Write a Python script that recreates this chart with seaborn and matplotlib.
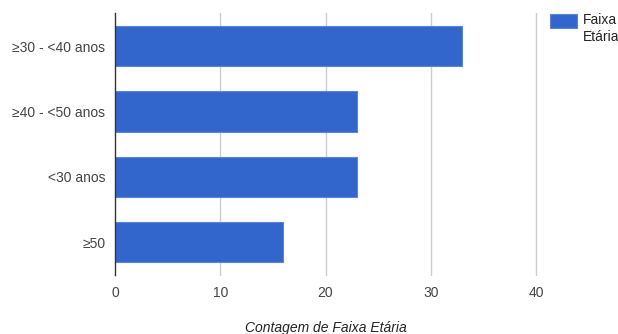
import matplotlib
matplotlib.use("Agg")
import matplotlib.pyplot as plt
import seaborn as sns
import pandas as pd

categories = ["≥30 - <40 anos", "≥40 - <50 anos", "<30 anos", "≥50"]
counts = [33, 23, 23, 16]
x_ticks = [0, 10, 20, 30, 40]
series_label = "Faixa\nEtária"
x_title = "Contagem de Faixa Etária"

sns.set_theme(style="white")
plt.rcParams["font.family"] = ["Liberation Sans", "DejaVu Sans"]

W, H = 618, 334
fig = plt.figure(figsize=(W / 100, H / 100), dpi=100)
ax = fig.add_axes([115 / W, 1 - 275 / H, (536 - 115) / W, (275 - 13.3) / H])

df = pd.DataFrame({"categoria": categories, "contagem": counts})
sns.barplot(data=df, x="contagem", y="categoria", orient="h", color="#3366cc",
            saturation=1, width=0.615, edgecolor="#5b85d9", linewidth=0.8,
            legend=False, ax=ax, zorder=3)

ax.set_xlim(0, 40)
ax.set_ylim(3.5, -0.5)
ax.set_xticks(x_ticks)
ax.set_xticklabels([str(t) for t in x_ticks])
ax.grid(axis="y", visible=False)
ax.grid(axis="x", visible=False)
# vertical gridlines, including the one on the right edge
for t in x_ticks[1:]:
    ax.axvline(t, color="#cccccc", linewidth=1, zorder=0, clip_on=False)
for side in ["top", "right", "bottom"]:
    ax.spines[side].set_visible(False)
ax.spines["left"].set_color("#333333")
ax.spines["left"].set_linewidth(1)
ax.spines["left"].set_zorder(4)
ax.tick_params(axis="both", length=0, labelsize=10, labelcolor="#444444")
ax.tick_params(axis="y", pad=7)
ax.tick_params(axis="x", pad=8)
ax.set_ylabel("")
ax.set_xlabel(x_title, fontsize=10, style="italic", color="#222222", labelpad=15)

# legend: colour swatch with a wrapped two-line label beside it
swatch = plt.Rectangle((550 / W, 1 - 27.5 / H), 27 / W, 14 / H,
                       transform=fig.transFigure, facecolor="#3366cc",
                       edgecolor="#5b85d9", linewidth=0.8)
fig.patches.append(swatch)
fig.text(583 / W, 1 - 12.5 / H, series_label, ha="left", va="top",
         fontsize=10, color="#222222", linespacing=1.35)

fig.savefig("out.png", dpi=100, facecolor="white")
